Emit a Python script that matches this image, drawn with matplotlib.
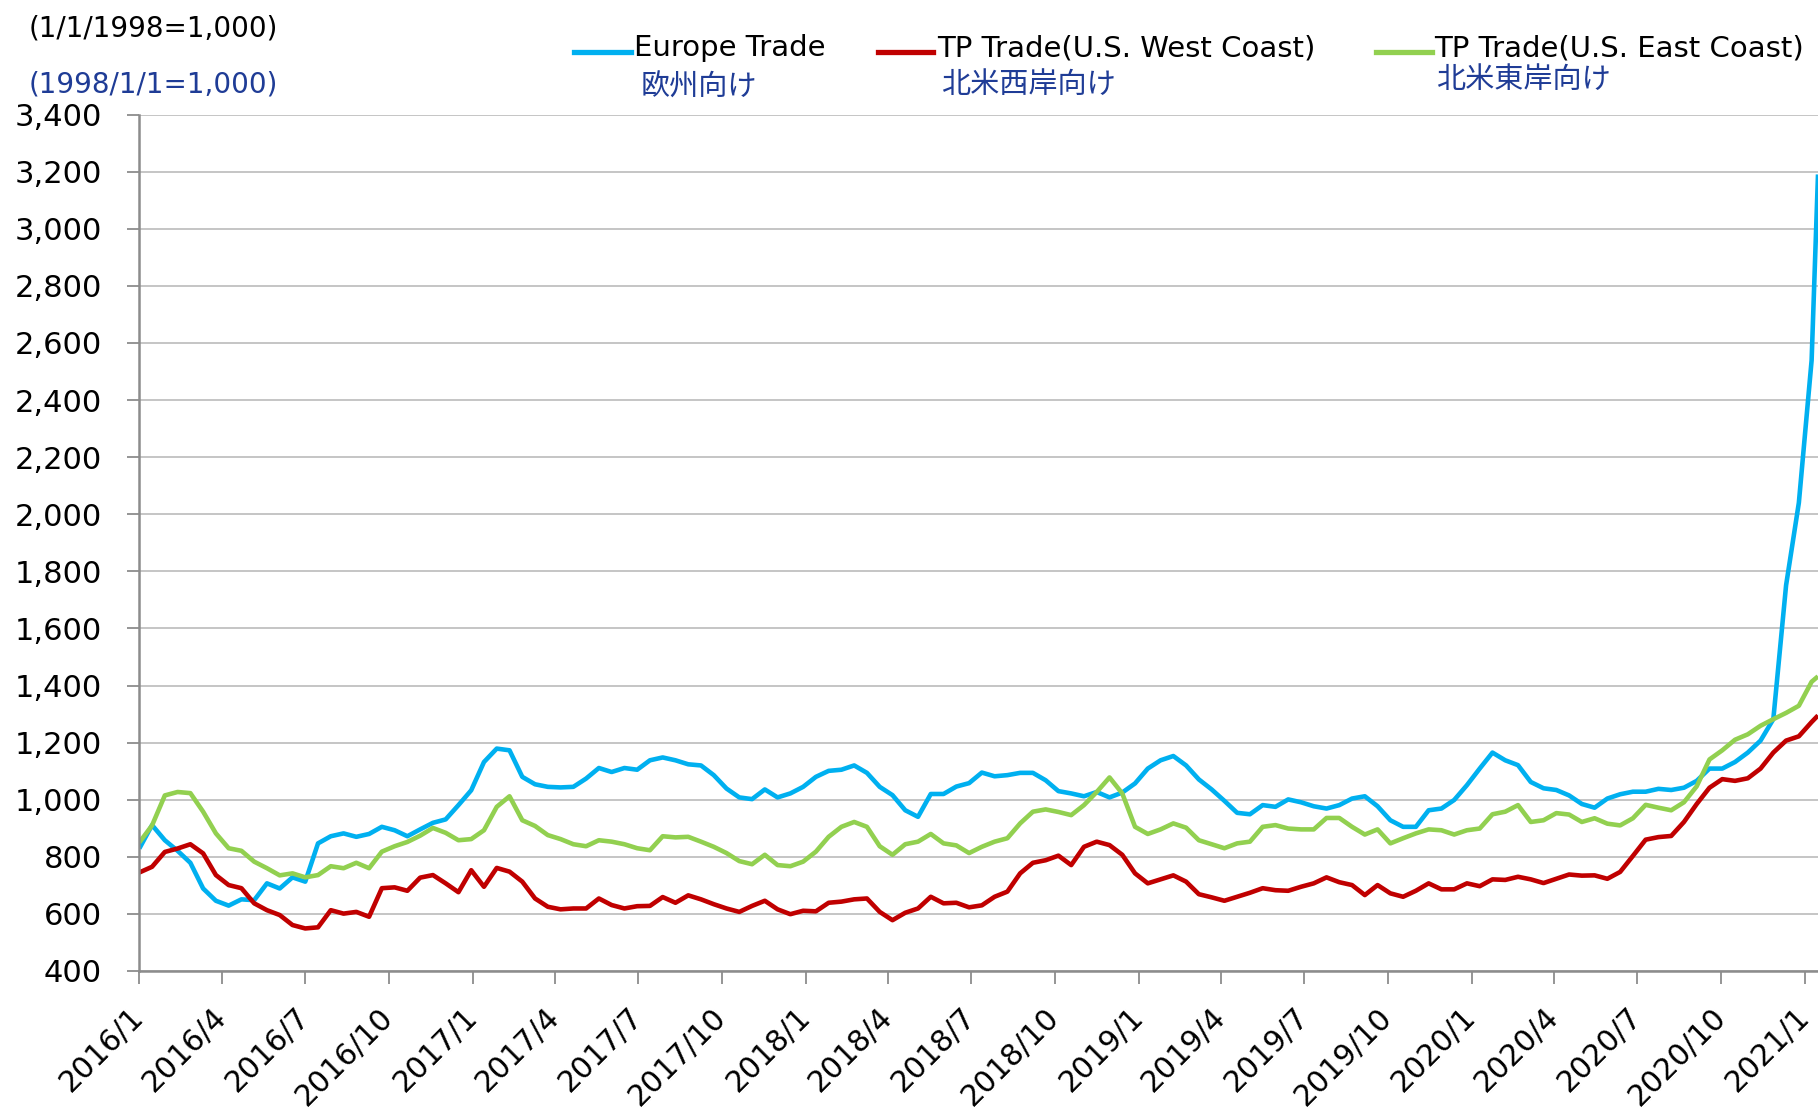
import matplotlib
matplotlib.use('Agg')
import matplotlib.pyplot as plt
import matplotlib.dates as mdates
from matplotlib.lines import Line2D
from matplotlib.ticker import FuncFormatter, MultipleLocator
import pandas as pd

# biweekly readings from 2016/1/1, plus the last week (2021/1/15)
dates = list(pd.date_range('2016-01-01', periods=132, freq='14D')) + [pd.Timestamp('2021-01-15')]

europe = [829, 911, 858, 821, 779, 689, 646, 629, 651, 648,
          707, 689, 728, 713, 847, 872, 882, 870, 880, 905,
          893, 872, 896, 919, 931, 981, 1033, 1132, 1179, 1173,
          1080, 1054, 1045, 1043, 1045, 1074, 1111, 1097, 1111, 1105,
          1138, 1148, 1138, 1124, 1120, 1086, 1039, 1008, 1002, 1036,
          1008, 1022, 1045, 1080, 1101, 1105, 1120, 1094, 1045, 1016,
          963, 940, 1020, 1020, 1046, 1058, 1095, 1082, 1086, 1094,
          1094, 1068, 1030, 1022, 1012, 1027, 1008, 1025, 1057, 1109,
          1138, 1153, 1120, 1071, 1036, 996, 954, 949, 981, 975,
          1001, 991, 977, 969, 981, 1004, 1012, 977, 928, 905,
          905, 963, 969, 999, 1051, 1109, 1165, 1138, 1121, 1062,
          1040, 1034, 1015, 985, 972, 1004, 1019, 1028, 1028, 1038,
          1034, 1042, 1066, 1109, 1109, 1132, 1165, 1207, 1282, 1751,
          2040, 2539, 3190]

us_west = [745, 765, 817, 829, 844, 812, 736, 701, 690, 637,
           613, 596, 561, 549, 553, 613, 601, 607, 590, 690,
           693, 681, 727, 736, 707, 676, 753, 695, 761, 748,
           713, 654, 625, 616, 619, 619, 654, 631, 619, 627,
           628, 659, 639, 665, 651, 634, 619, 607, 628, 646,
           616, 599, 611, 609, 639, 643, 651, 654, 607, 578,
           604, 619, 660, 637, 639, 623, 630, 660, 678, 742,
           779, 788, 804, 771, 835, 853, 841, 807, 742, 707,
           721, 735, 713, 669, 658, 646, 660, 674, 690, 683,
           681, 695, 707, 728, 711, 701, 666, 701, 672, 660,
           681, 707, 686, 686, 707, 697, 721, 719, 730, 721,
           708, 723, 738, 734, 735, 723, 747, 803, 860, 869,
           873, 922, 985, 1042, 1072, 1066, 1075, 1109, 1165, 1207,
           1222, 1272, 1295]

us_east = [850, 910, 1015, 1027, 1023, 958, 882, 830, 821, 783,
           760, 735, 742, 728, 736, 767, 760, 779, 760, 818,
           837, 852, 874, 901, 884, 858, 862, 893, 975, 1012,
           928, 908, 876, 862, 844, 837, 858, 853, 844, 830,
           823, 872, 868, 870, 853, 835, 813, 785, 774, 807,
           771, 767, 783, 818, 870, 905, 922, 905, 837, 807,
           844, 853, 880, 847, 840, 813, 835, 853, 865, 917,
           958, 966, 957, 946, 981, 1027, 1078, 1022, 905, 880,
           896, 917, 902, 858, 844, 830, 847, 853, 905, 911,
           899, 896, 896, 936, 936, 905, 878, 896, 847, 865,
           882, 896, 893, 878, 893, 899, 949, 958, 981, 922,
           928, 953, 948, 922, 935, 916, 910, 935, 982, 972,
           963, 991, 1047, 1141, 1173, 1210, 1229, 1259, 1282, 1304,
           1329, 1413, 1432]

names = ['Europe Trade', 'TP Trade(U.S. West Coast)', 'TP Trade(U.S. East Coast)']
names_jp = ['欧州向け', '北米西岸向け', '北米東岸向け']
colors = ['#00B0F0', '#C00000', '#92D050']
JP_BLUE = '#1F3C96'

W, H = 1818, 1108
fig = plt.figure(figsize=(W / 100, H / 100), dpi=100)


def fx(x):
    return x / W


def fy(y):
    return 1 - y / H


ax = fig.add_axes([fx(139.3), fy(971), 1 - fx(139.3), (971 - 114.5) / H])

for vals, c in zip([europe, us_west, us_east], colors):
    ax.plot(dates, vals, color=c, lw=3.3, solid_joinstyle='round', solid_capstyle='butt')

ax.set_ylim(400, 3400)
ax.set_xlim(dates[0], dates[-1])
ax.yaxis.set_major_locator(MultipleLocator(200))
ax.yaxis.set_major_formatter(FuncFormatter(lambda v, p: f'{v:,.0f}'))
ax.xaxis.set_major_locator(mdates.MonthLocator(bymonth=(1, 4, 7, 10)))
ax.xaxis.set_major_formatter(FuncFormatter(
    lambda v, p: f'{mdates.num2date(v).year}/{mdates.num2date(v).month}'))

ax.set_axisbelow(True)
ax.yaxis.grid(True, color='#C0C0C0', lw=1.3)
for s in ['top', 'right']:
    ax.spines[s].set_visible(False)
for s in ['left', 'bottom']:
    ax.spines[s].set_color('#8C8C8C')
    ax.spines[s].set_linewidth(1.8)

ax.tick_params(axis='y', direction='out', length=9, width=1.3, color='#8C8C8C',
               labelsize=22, pad=18)
ax.tick_params(axis='x', direction='out', length=9, width=1.3, color='#8C8C8C',
               labelsize=21.5, pad=21)
for lab in ax.get_xticklabels():
    lab.set_rotation(45)
    lab.set_ha('right')
    lab.set_va('center')
    lab.set_rotation_mode('anchor')

# header notes
fig.text(fx(29), fy(28), '(1/1/1998=1,000)', fontsize=20, color='black', va='center')
fig.text(fx(29), fy(85), '(1998/1/1=1,000)', fontsize=20, color=JP_BLUE, va='center')

# legend drawn by hand
handle_x = [(574, 631), (878, 933), (1376, 1432)]
label_x = [634, 937, 1434]
jp_pos = [(641, 88), (941, 85), (1436, 80)]
for i in range(3):
    x0, x1 = handle_x[i]
    fig.add_artist(Line2D([fx(x0), fx(x1)], [fy(52), fy(52)], color=colors[i], lw=3.8,
                          transform=fig.transFigure))
    fig.text(fx(label_x[i]), fy(48), names[i], fontsize=21, color='black', va='center')
    fig.text(fx(jp_pos[i][0]), fy(jp_pos[i][1]), names_jp[i], fontsize=21, color=JP_BLUE,
             va='center', family=['Noto Sans CJK JP', 'DejaVu Sans'])

fig.savefig('out.png', dpi=100)
